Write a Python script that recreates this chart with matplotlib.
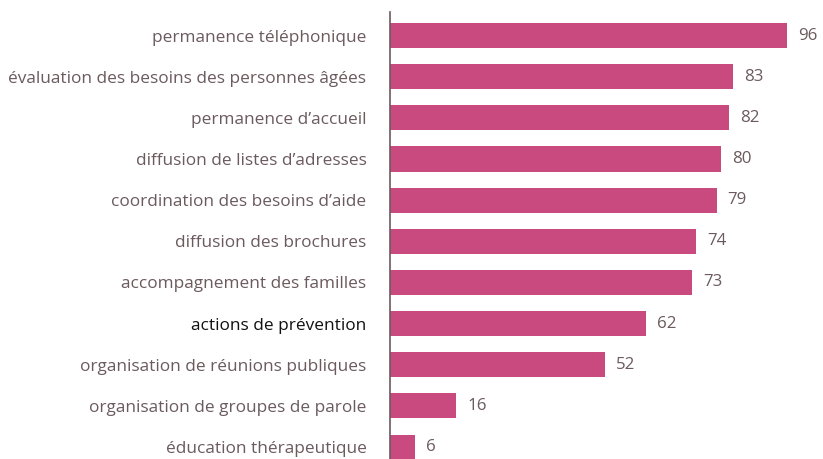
import matplotlib
matplotlib.use("Agg")
import matplotlib.pyplot as plt

categories = [
    "permanence téléphonique",
    "évaluation des besoins des personnes âgées",
    "permanence d’accueil",
    "diffusion de listes d’adresses",
    "coordination des besoins d’aide",
    "diffusion des brochures",
    "accompagnement des familles",
    "actions de prévention",
    "organisation de réunions publiques",
    "organisation de groupes de parole",
    "éducation thérapeutique",
]
values = [96, 83, 82, 80, 79, 74, 73, 62, 52, 16, 6]
highlight = "actions de prévention"

bar_color = "#C84A7E"
text_color = "#6B5A5E"

plt.rcParams["font.family"] = ["Open Sans", "DejaVu Sans"]

fig = plt.figure(figsize=(8.23, 4.59), dpi=100)
ax = fig.add_axes([390 / 823, 0, 433 / 823, 1 - 12 / 459])

y = list(range(len(categories)))
ax.barh(y, values, height=0.61, color=bar_color)

for i, v in enumerate(values):
    ax.annotate(str(v), (v, i), xytext=(11, 0), textcoords="offset pixels",
                ha="left", va="center", fontsize=12.2, color=text_color,
                annotation_clip=False)

ax.set_xlim(0, 104.7)
ax.set_ylim(10.29, -0.571)
ax.set_yticks(y)
ax.set_yticklabels(categories, fontsize=12.4)
for lbl in ax.get_yticklabels():
    lbl.set_color("#111111" if lbl.get_text() == highlight else text_color)
ax.tick_params(axis="y", length=0, pad=17)
ax.set_xticks([])

for s in ["top", "right", "bottom"]:
    ax.spines[s].set_visible(False)
ax.spines["left"].set_color(text_color)
ax.spines["left"].set_linewidth(1.2)

fig.savefig("out.png", dpi=100)
